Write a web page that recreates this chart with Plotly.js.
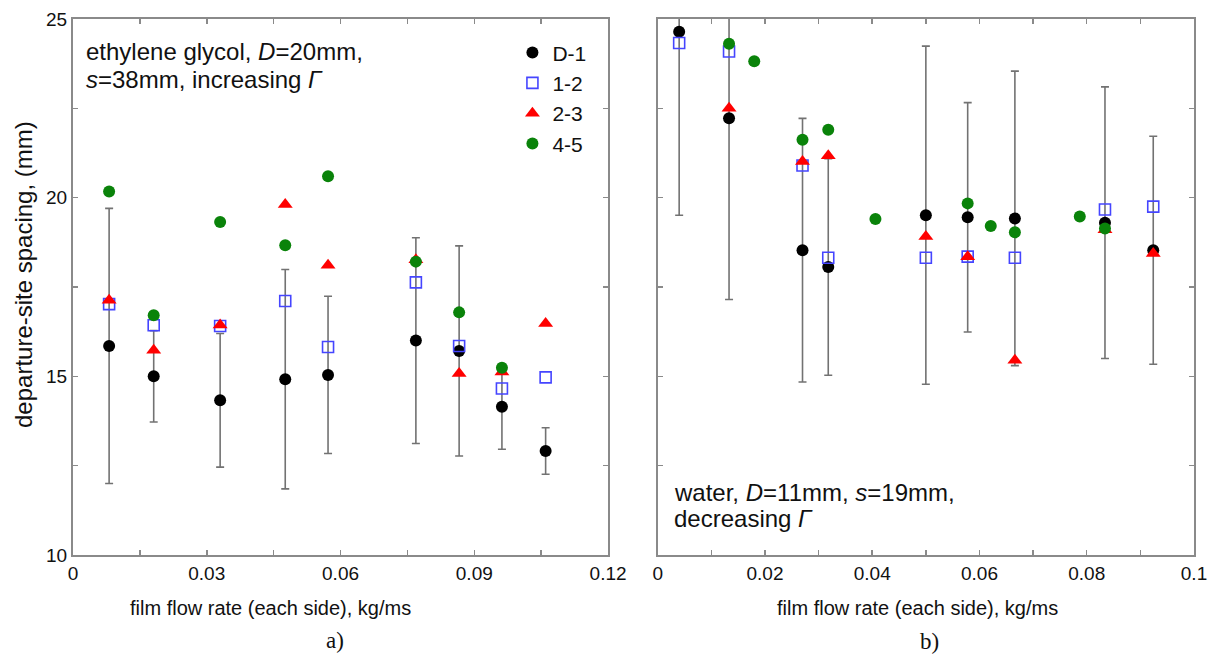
<!DOCTYPE html>
<html>
<head>
<meta charset="utf-8">
<script src="https://cdn.plot.ly/plotly-3.0.1.min.js"></script>
<style>html,body{margin:0;padding:0;background:#fff;}#chart{width:1209px;height:654px;}</style>
</head>
<body>
<div id="chart"></div>
<script>
// ---- panel a) ethylene glycol ----
const xA = [0.0081, 0.0181, 0.033, 0.0476, 0.0572, 0.0769, 0.0866, 0.0962, 0.106];
const a_D1 = [15.85, 15.0, 14.33, 14.92, 15.04, 16.0, 15.71, 14.15, 12.91];
const a_D1err = [3.85, 1.28, 1.87, 3.07, 2.2, 2.88, 2.94, 1.19, 0.65];
const a_12 = [17.02, 16.43, 16.41, 17.11, 15.82, 17.63, 15.85, 14.66, 14.97];
const a_23 = [17.13, 15.73, 16.44, 19.81, 18.11, 18.26, 15.08, 15.12, 16.48];
const a_45 = [20.17, 16.71, 19.32, 18.67, 20.60, 18.21, 16.79, 15.24, null];

// ---- panel b) water ----
const xB = [0.004, 0.0133, 0.027, 0.0318, 0.05, 0.0578, 0.0666, 0.0834, 0.0924];
const b_D1 = [24.64, 22.22, 18.53, 18.06, 19.51, 19.45, 19.42, 19.30, 18.53];
const b_D1err = [5.13, 5.07, 3.69, 3.03, 4.73, 3.21, 4.12, 3.8, 3.19];
const b_12 = [24.33, 24.09, 20.9, 18.32, 18.32, 18.35, 18.32, 19.67, 19.75];
const b_23 = [null, 22.50, 21.01, 21.17, 18.91, 18.35, 15.45, 19.1, 18.44];
const xB_45 = [0.0133, 0.018, 0.027, 0.0318, 0.0406, 0.0578, 0.0621, 0.0666, 0.0787, 0.0834];
const b_45 = [24.31, 23.82, 21.62, 21.9, 19.40, 19.84, 19.21, 19.03, 19.47, 19.14];

// ---- ticks ----
const xTickValsA = [0, 0.015, 0.03, 0.045, 0.06, 0.075, 0.09, 0.105, 0.12];
const xTickTextA = ['0', '', '0.03', '', '0.06', '', '0.09', '', '0.12'];
const xTickValsB = [0, 0.01, 0.02, 0.03, 0.04, 0.05, 0.06, 0.07, 0.08, 0.09, 0.1];
const xTickTextB = ['0', '', '0.02', '', '0.04', '', '0.06', '', '0.08', '', '0.1'];
const yTickVals = [10, 12.5, 15, 17.5, 20, 22.5, 25];
const yTickTextA = ['10', '', '15', '', '20', '', '25'];
const yTickTextB = ['', '', '', '', '', '', ''];

const seriesNames = ['D-1', '1-2', '2-3', '4-5'];

const FONT = 'Liberation Sans, Arial, sans-serif';
const SERIF = 'Liberation Serif, Times New Roman, serif';
const errStyle = {type: 'data', visible: true, color: '#727272', thickness: 1.6, width: 4};
const mD1 = {symbol: 'circle', size: 12, color: '#000000'};
const m12 = {symbol: 'square-open', size: 11, color: '#4545ff', line: {width: 1.6, color: '#4545ff'}};
const m23 = {symbol: 'triangle-up', size: 13, color: '#ff0000'};
const m45 = {symbol: 'circle', size: 12, color: '#0a830a'};

const traces = [
  {x: xA, y: a_D1, name: seriesNames[0], mode: 'markers', marker: mD1, error_y: Object.assign({array: a_D1err}, errStyle), xaxis: 'x', yaxis: 'y'},
  {x: xA, y: a_12, name: seriesNames[1], mode: 'markers', marker: m12, xaxis: 'x', yaxis: 'y'},
  {x: xA, y: a_23, name: seriesNames[2], mode: 'markers', marker: m23, xaxis: 'x', yaxis: 'y'},
  {x: xA, y: a_45, name: seriesNames[3], mode: 'markers', marker: m45, xaxis: 'x', yaxis: 'y'},
  {x: xB, y: b_D1, name: seriesNames[0], mode: 'markers', marker: mD1, error_y: Object.assign({array: b_D1err}, errStyle), xaxis: 'x2', yaxis: 'y2', showlegend: false},
  {x: xB, y: b_12, name: seriesNames[1], mode: 'markers', marker: m12, xaxis: 'x2', yaxis: 'y2', showlegend: false},
  {x: xB, y: b_23, name: seriesNames[2], mode: 'markers', marker: m23, xaxis: 'x2', yaxis: 'y2', showlegend: false},
  {x: xB_45, y: b_45, name: seriesNames[3], mode: 'markers', marker: m45, xaxis: 'x2', yaxis: 'y2', showlegend: false}
];

const axBase = {
  showline: true, linecolor: '#8a8a8a', linewidth: 2, mirror: 'ticks',
  ticks: 'inside', ticklen: 5, tickwidth: 1.5, tickcolor: '#8a8a8a',
  showgrid: false, zeroline: false, tickmode: 'array',
  tickfont: {family: FONT, size: 19, color: '#111'}
};

function px2x(px) { return (px - 73) / 1121; }
function px2y(py) { return 1 - (py - 19) / 536; }

const layout = {
  width: 1209, height: 654,
  margin: {l: 73, r: 15, t: 19, b: 99},
  paper_bgcolor: '#ffffff', plot_bgcolor: '#ffffff',
  font: {family: FONT, color: '#111'},
  showlegend: true,
  legend: {x: 0.392, y: 0.975, xanchor: 'left', yanchor: 'top', bgcolor: 'rgba(0,0,0,0)',
           font: {family: FONT, size: 21, color: '#111'}, tracegroupgap: 0, itemsizing: 'trace'},
  xaxis: Object.assign({}, axBase, {domain: [0, 0.4773], range: [0, 0.12], tickvals: xTickValsA, ticktext: xTickTextA, anchor: 'y'}),
  yaxis: Object.assign({}, axBase, {domain: [0, 1], range: [10, 25], tickvals: yTickVals, ticktext: yTickTextA, anchor: 'x'}),
  xaxis2: Object.assign({}, axBase, {domain: [0.5216, 1], range: [0, 0.1], tickvals: xTickValsB, ticktext: xTickTextB, anchor: 'y2'}),
  yaxis2: Object.assign({}, axBase, {domain: [0, 1], range: [10, 25], tickvals: yTickVals, ticktext: yTickTextB, anchor: 'x2', showticklabels: false}),
  annotations: [
    {xref: 'paper', yref: 'paper', x: px2x(84), y: px2y(51.7), xanchor: 'left', yanchor: 'middle', showarrow: false,
     text: 'ethylene glycol, <i>D</i>=20mm,', font: {family: FONT, size: 24, color: '#111'}},
    {xref: 'paper', yref: 'paper', x: px2x(84), y: px2y(79.3), xanchor: 'left', yanchor: 'middle', showarrow: false,
     text: '<i>s</i>=38mm, increasing <i>Γ</i>', font: {family: FONT, size: 24, color: '#111'}},
    {xref: 'paper', yref: 'paper', x: px2x(672), y: px2y(492), xanchor: 'left', yanchor: 'middle', showarrow: false,
     text: 'water, <i>D</i>=11mm, <i>s</i>=19mm,', font: {family: FONT, size: 24, color: '#111'}},
    {xref: 'paper', yref: 'paper', x: px2x(672), y: px2y(518), xanchor: 'left', yanchor: 'middle', showarrow: false,
     text: 'decreasing <i>Γ</i>', font: {family: FONT, size: 24, color: '#111'}},
    {xref: 'paper', yref: 'paper', x: px2x(23), y: px2y(275), xanchor: 'center', yanchor: 'middle', showarrow: false, textangle: -90,
     text: 'departure-site spacing, (mm)', font: {family: FONT, size: 24, color: '#111'}},
    {xref: 'paper', yref: 'paper', x: px2x(270), y: px2y(608), xanchor: 'center', yanchor: 'middle', showarrow: false,
     text: 'film flow rate (each side), kg/ms', font: {family: FONT, size: 20, color: '#111'}},
    {xref: 'paper', yref: 'paper', x: px2x(917), y: px2y(608), xanchor: 'center', yanchor: 'middle', showarrow: false,
     text: 'film flow rate (each side), kg/ms', font: {family: FONT, size: 20, color: '#111'}},
    {xref: 'paper', yref: 'paper', x: px2x(335), y: px2y(640), xanchor: 'center', yanchor: 'middle', showarrow: false,
     text: 'a)', font: {family: SERIF, size: 23, color: '#111'}},
    {xref: 'paper', yref: 'paper', x: px2x(929), y: px2y(641), xanchor: 'center', yanchor: 'middle', showarrow: false,
     text: 'b)', font: {family: SERIF, size: 23, color: '#111'}}
  ]
};

Plotly.newPlot('chart', traces, layout, {displayModeBar: false, staticPlot: true});
</script>
</body>
</html>
